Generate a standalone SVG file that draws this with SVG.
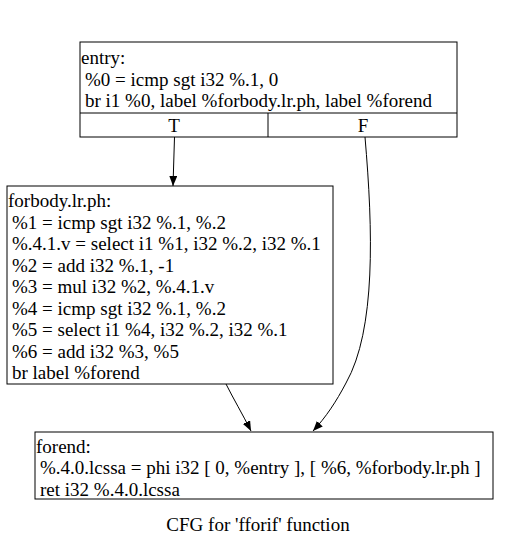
<svg xmlns="http://www.w3.org/2000/svg" width="508" height="545" viewBox="0 0 508 545">
<style>
.box{fill:#fff;stroke:#000;stroke-width:1}
.edge{fill:none;stroke:#000;stroke-width:1}
</style>
<defs>
<marker id="ah" markerWidth="10" markerHeight="8" refX="10" refY="4" orient="auto" markerUnits="userSpaceOnUse">
<polygon points="0,0 10,4 0,8" fill="#000"/>
</marker>
</defs>
<rect width="508" height="545" fill="#fff"/>
<g id="connectors">
<path class="edge" d="M174.5,137 L173,186" marker-end="url(#ah)"/>
<path class="edge" d="M365,137 C373,230 376,330 346,383 C336,402 326,417 313,431" marker-end="url(#ah)"/>
<path class="edge" d="M226,384 C233,398 243,415 251,431" marker-end="url(#ah)"/>
</g>
<g font-family="Liberation Serif, DejaVu Serif, serif" font-size="19" fill="#000">
<g id="entry">
<rect class="box" x="80" y="42" width="377" height="95"/>
<line class="edge" x1="80" y1="113" x2="457" y2="113"/>
<line class="edge" x1="268" y1="113" x2="268" y2="137"/>
<text x="81" y="64">entry:</text>
<text x="85" y="86">%0 = icmp sgt i32 %.1, 0</text>
<text x="85" y="107">br i1 %0, label %forbody.lr.ph, label %forend</text>
<text x="174" y="132" text-anchor="middle">T</text>
<text x="363" y="132" text-anchor="middle">F</text>
</g>
<g id="forbody.lr.ph">
<rect class="box" x="7" y="186" width="326" height="198"/>
<text x="8" y="207">forbody.lr.ph:</text>
<text x="12" y="229">%1 = icmp sgt i32 %.1, %.2</text>
<text x="12" y="250">%.4.1.v = select i1 %1, i32 %.2, i32 %.1</text>
<text x="12" y="272">%2 = add i32 %.1, -1</text>
<text x="12" y="293">%3 = mul i32 %2, %.4.1.v</text>
<text x="12" y="315">%4 = icmp sgt i32 %.1, %.2</text>
<text x="12" y="336">%5 = select i1 %4, i32 %.2, i32 %.1</text>
<text x="12" y="358">%6 = add i32 %3, %5</text>
<text x="12" y="379">br label %forend</text>
</g>
<g id="forend">
<rect class="box" x="35" y="432" width="458" height="67"/>
<text x="36" y="453">forend:</text>
<text x="40" y="474">%.4.0.lcssa = phi i32 [ 0, %entry ], [ %6, %forbody.lr.ph ]</text>
<text x="40" y="496">ret i32 %.4.0.lcssa</text>
</g>
<text x="258" y="531" text-anchor="middle">CFG for 'fforif' function</text>
</g>
</svg>
